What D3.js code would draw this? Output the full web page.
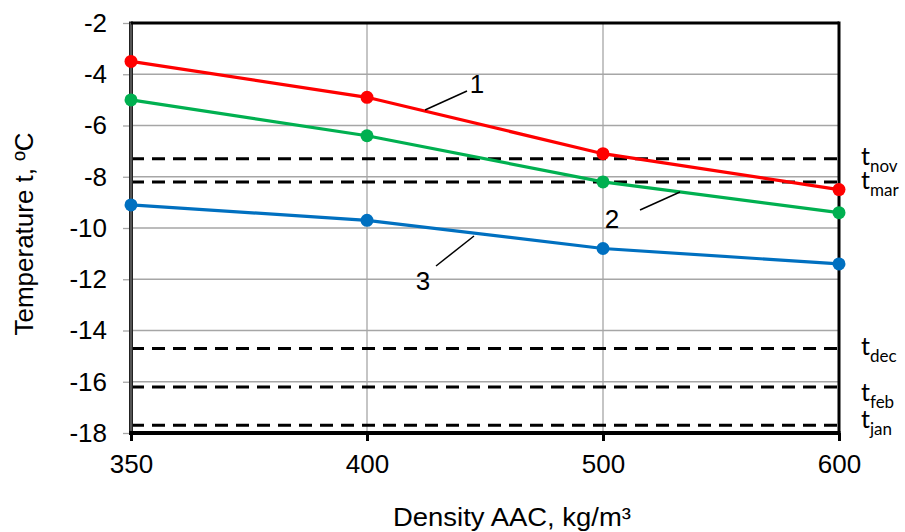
<!DOCTYPE html>
<html>
<head>
<meta charset="utf-8">
<script src="https://cdn.jsdelivr.net/npm/d3@7"></script>
<style>
  html, body { margin: 0; padding: 0; background: #fff; }
  svg { display: block; }
  text { font-family: "Liberation Sans", Arial, sans-serif; fill: #000; }
  .mlabel { font-family: Lato, "Open Sans", sans-serif; }
</style>
</head>
<body>
<svg id="chart" width="905" height="532"></svg>
<script>
// Density of autoclaved aerated concrete (category axis)
const densities = ["350", "400", "500", "600"];

// Curve values, °C
const curve1 = [-3.5, -4.9, -7.1, -8.5];
const curve2 = [-5.0, -6.4, -8.2, -9.4];
const curve3 = [-9.1, -9.7, -10.8, -11.4];

// Average monthly outdoor temperatures, °C
const months = ["nov", "mar", "dec", "feb", "jan"];
const monthTemps = [-7.3, -8.2, -14.7, -16.2, -17.7];

// Y axis ticks
const yTicks = [-2, -4, -6, -8, -10, -12, -14, -16, -18];

const series = [
  { name: "1", values: curve1, color: "#ff0000" },
  { name: "2", values: curve2, color: "#00b050" },
  { name: "3", values: curve3, color: "#0070c0" }
];

const svg = d3.select("#chart");
const plotL = 131, plotR = 839, plotT = 23, plotB = 433;
const FS = 26;

const x = d3.scalePoint().domain(densities).range([plotL, plotR]);
const y = d3.scaleLinear().domain([-18, -2]).range([plotB, plotT]);

// Gridlines
const grid = svg.append("g");
grid.selectAll("line.h").data(yTicks.filter(v => v > -18 && v < -2)).join("line")
  .attr("x1", plotL).attr("x2", plotR)
  .attr("y1", d => y(d)).attr("y2", d => y(d))
  .attr("stroke", "#a6a6a6").attr("stroke-width", 1.3);
grid.selectAll("line.v").data(densities.slice(1, -1)).join("line")
  .attr("x1", d => x(d)).attr("x2", d => x(d))
  .attr("y1", plotT).attr("y2", plotB)
  .attr("stroke", "#a6a6a6").attr("stroke-width", 1.3);

// Monthly temperature reference lines
svg.append("g").selectAll("line").data(monthTemps).join("line")
  .attr("x1", plotL).attr("x2", plotR)
  .attr("y1", d => y(d)).attr("y2", d => y(d))
  .attr("stroke", "#000").attr("stroke-width", 3)
  .attr("stroke-dasharray", "13,8");

// Y axis
const yAxis = svg.append("g")
  .attr("transform", `translate(${plotL},0)`)
  .call(d3.axisLeft(y).tickValues(yTicks).tickSize(8).tickPadding(16).tickFormat(d3.format("d")));
yAxis.select(".domain").remove();
yAxis.selectAll(".tick line").attr("stroke", "#a6a6a6").attr("stroke-width", 1.3);
yAxis.selectAll(".tick text").style("font-size", FS + "px").text(d => String(d));

// X axis
const xAxis = svg.append("g")
  .attr("transform", `translate(0,${plotB})`)
  .call(d3.axisBottom(x).tickSize(8).tickPadding(14));
xAxis.select(".domain").remove();
xAxis.selectAll(".tick line").attr("stroke", "#000").attr("stroke-width", 3);
xAxis.selectAll(".tick text").style("font-size", FS + "px");

// Plot frame
svg.append("line").attr("x1", plotL).attr("x2", plotL).attr("y1", plotT - 1.5).attr("y2", plotB + 2)
  .attr("stroke", "#222").attr("stroke-width", 4);
svg.append("line").attr("x1", plotL).attr("x2", plotL).attr("y1", plotT).attr("y2", plotB)
  .attr("stroke", "#888").attr("stroke-width", 1);
svg.append("line").attr("x1", plotR).attr("x2", plotR).attr("y1", plotT - 1.5).attr("y2", plotB + 2)
  .attr("stroke", "#000").attr("stroke-width", 3);
svg.append("line").attr("x1", plotL).attr("x2", plotR).attr("y1", plotT).attr("y2", plotT)
  .attr("stroke", "#000").attr("stroke-width", 3);
svg.append("line").attr("x1", plotL - 2).attr("x2", plotR + 1.5).attr("y1", plotB).attr("y2", plotB)
  .attr("stroke", "#000").attr("stroke-width", 4);

// Curves with markers
const line = d3.line().x((d, i) => x(densities[i])).y(d => y(d));
const sg = svg.append("g").selectAll("g").data(series).join("g");
sg.append("path")
  .attr("d", d => line(d.values))
  .attr("fill", "none").attr("stroke", d => d.color).attr("stroke-width", 3.2);
sg.selectAll("circle").data(d => d.values.map(v => ({ v, c: d.color }))).join("circle")
  .attr("cx", (d, i) => x(densities[i])).attr("cy", d => y(d.v))
  .attr("r", 6.5).attr("fill", d => d.c);

// Curve number callouts with leader lines
const callouts = [
  { t: "1", x1: 425, y1: 110, x2: 467, y2: 91, tx: 477, ty: 93 },
  { t: "2", x1: 640, y1: 210, x2: 680, y2: 192, tx: 612, ty: 228 },
  { t: "3", x1: 436, y1: 266, x2: 474, y2: 236, tx: 423, ty: 290 }
];
const cg = svg.append("g");
cg.selectAll("line").data(callouts).join("line")
  .attr("x1", d => d.x1).attr("y1", d => d.y1).attr("x2", d => d.x2).attr("y2", d => d.y2)
  .attr("stroke", "#000").attr("stroke-width", 1.5);
cg.selectAll("text").data(callouts).join("text")
  .attr("x", d => d.tx).attr("y", d => d.ty).attr("text-anchor", "middle")
  .style("font-size", FS + "px").text(d => d.t);

// Month labels at the right
const labelY = [165, 189, 355, 401, 428];
const ml = svg.append("g").selectAll("text").data(months).join("text")
  .attr("class", "mlabel")
  .attr("x", 861).attr("y", (d, i) => labelY[i])
  .style("font-size", "25px");
ml.append("tspan").text("t");
ml.append("tspan").attr("dy", 7).style("font-size", "17px").text(d => d);

// Axis titles
svg.append("text")
  .attr("x", 512).attr("y", 526)
  .attr("text-anchor", "middle").style("font-size", FS + "px")
  .attr("textLength", 238).attr("lengthAdjust", "spacingAndGlyphs")
  .text("Density AAC, kg/m³");
svg.append("text")
  .attr("transform", `translate(33,234) rotate(-90)`)
  .attr("text-anchor", "middle").style("font-size", FS + "px")
  .text("Temperature t, ºC");
</script>
</body>
</html>
